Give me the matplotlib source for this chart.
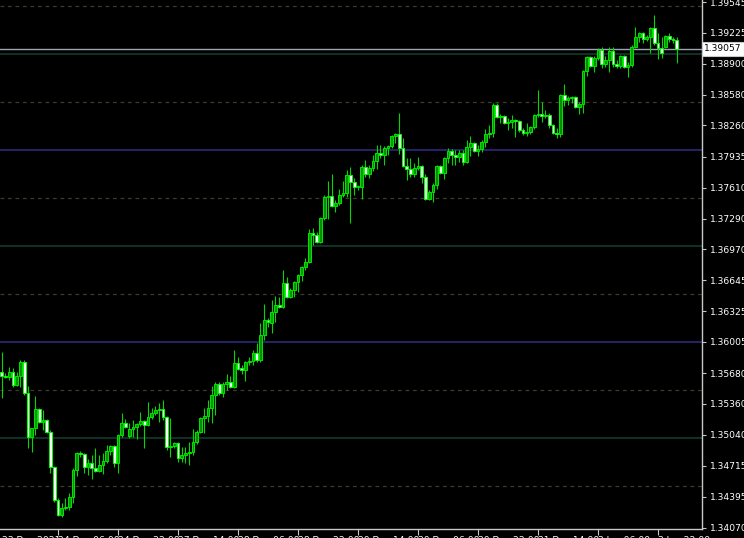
import matplotlib
matplotlib.use("Agg")
import matplotlib.pyplot as plt
import matplotlib.transforms as mtransforms
import numpy as np

# hourly candles (oldest first)
opens = [
    1.35692, 1.35651, 1.35640, 1.35692, 1.35557, 1.35651, 1.35796, 1.35474, 1.35015, 1.35109,
    1.35306, 1.35171, 1.35192, 1.35067, 1.34703, 1.34359, 1.34203, 1.34276, 1.34286, 1.34390,
    1.34671, 1.34849, 1.34838, 1.34703, 1.34745, 1.34693, 1.34661, 1.34724, 1.34766, 1.34870,
    1.34921, 1.34745, 1.35036, 1.35161, 1.35026, 1.35098, 1.35119, 1.35150, 1.35182, 1.35140,
    1.35223, 1.35265, 1.35296, 1.35306, 1.35223, 1.34911, 1.34921, 1.34953, 1.34797, 1.34828,
    1.34849, 1.34859, 1.34963, 1.35067, 1.35213, 1.35234, 1.35317, 1.35453, 1.35567, 1.35474,
    1.35567, 1.35588, 1.35536, 1.35786, 1.35734, 1.35713, 1.35796, 1.35807, 1.35890, 1.35817,
    1.36077, 1.36234, 1.36203, 1.36317, 1.36390, 1.36369, 1.36619, 1.36473, 1.36546, 1.36629,
    1.36702, 1.36785, 1.36837, 1.37140, 1.37119, 1.37046, 1.37296, 1.37514, 1.37525, 1.37421,
    1.37452, 1.37535, 1.37556, 1.37744, 1.37670, 1.37618, 1.37618, 1.37827, 1.37754, 1.37817,
    1.37890, 1.37973, 1.37952, 1.38025, 1.38046, 1.38150, 1.38171, 1.38025, 1.37838, 1.37806,
    1.37754, 1.37817, 1.37838, 1.37723, 1.37494, 1.37566, 1.37639, 1.37838, 1.37764, 1.37921,
    1.37994, 1.37952, 1.37931, 1.37973, 1.37879, 1.38035, 1.38077, 1.37994, 1.38014, 1.38087,
    1.38171, 1.38181, 1.38473, 1.38347, 1.38358, 1.38285, 1.38295, 1.38316, 1.38306, 1.38212,
    1.38181, 1.38191, 1.38243, 1.38368, 1.38379, 1.38358, 1.38368, 1.38264, 1.38181, 1.38171,
    1.38577, 1.38525, 1.38546, 1.38556, 1.38452, 1.38483, 1.38827, 1.38972, 1.38879, 1.38962,
    1.39045, 1.38899, 1.38941, 1.39035, 1.38899, 1.38879, 1.38983, 1.38868, 1.38889, 1.39076,
    1.39181, 1.39223, 1.39160, 1.39181, 1.39275, 1.39118, 1.39066, 1.39076, 1.39191, 1.39160,
    1.39149,
]
highs = [
    1.35900, 1.35682, 1.35744, 1.35734, 1.35692, 1.35817, 1.35817, 1.35547, 1.35109, 1.35443,
    1.35317, 1.35296, 1.35202, 1.35088, 1.34714, 1.34380, 1.34328, 1.34380, 1.34432, 1.34693,
    1.34859, 1.34870, 1.34849, 1.34786, 1.34828, 1.34901, 1.34828, 1.34849, 1.34932, 1.34932,
    1.34932, 1.35046, 1.35265, 1.35202, 1.35161, 1.35192, 1.35161, 1.35275, 1.35192, 1.35379,
    1.35317, 1.35338, 1.35369, 1.35400, 1.35234, 1.35213, 1.34963, 1.34963, 1.34911, 1.34911,
    1.34963, 1.35098, 1.35088, 1.35223, 1.35317, 1.35400, 1.35547, 1.35588, 1.35588, 1.35588,
    1.35671, 1.35651, 1.35921, 1.35848, 1.35765, 1.35807, 1.35848, 1.35921, 1.35994, 1.36203,
    1.36400, 1.36255, 1.36442, 1.36484, 1.36473, 1.36754, 1.36681, 1.36567, 1.36640, 1.36712,
    1.36796, 1.36879, 1.37181, 1.37192, 1.37150, 1.37306, 1.37535, 1.37681, 1.37754, 1.37483,
    1.37597, 1.37681, 1.37796, 1.37827, 1.37712, 1.37639, 1.37848, 1.37900, 1.37848, 1.37952,
    1.38056, 1.38056, 1.38046, 1.38056, 1.38160, 1.38181, 1.38390, 1.38129, 1.37921, 1.37921,
    1.37869, 1.37931, 1.37848, 1.37754, 1.37587, 1.37660, 1.37848, 1.37848, 1.37931, 1.38025,
    1.38014, 1.38004, 1.38004, 1.38004, 1.38108, 1.38150, 1.38087, 1.38056, 1.38108, 1.38223,
    1.38264, 1.38494, 1.38494, 1.38379, 1.38368, 1.38337, 1.38368, 1.38327, 1.38316, 1.38233,
    1.38285, 1.38254, 1.38379, 1.38629, 1.38504, 1.38420, 1.38389, 1.38275, 1.38233, 1.38587,
    1.38691, 1.38567, 1.38567, 1.38567, 1.38504, 1.38837, 1.38983, 1.38983, 1.38983, 1.39066,
    1.39076, 1.38983, 1.39076, 1.39076, 1.38941, 1.38993, 1.38993, 1.38920, 1.39097, 1.39285,
    1.39233, 1.39233, 1.39202, 1.39285, 1.39410, 1.39223, 1.39181, 1.39202, 1.39223, 1.39181,
    1.39181,
]
lows = [
    1.35422, 1.35630, 1.35609, 1.35536, 1.35547, 1.35536, 1.35453, 1.34901, 1.34859, 1.35036,
    1.35161, 1.35088, 1.35057, 1.34640, 1.34338, 1.34193, 1.34182, 1.34255, 1.34255, 1.34328,
    1.34609, 1.34807, 1.34640, 1.34619, 1.34577, 1.34650, 1.34650, 1.34629, 1.34745, 1.34828,
    1.34703, 1.34640, 1.35015, 1.35109, 1.35005, 1.35015, 1.34994, 1.35130, 1.34901, 1.35130,
    1.35202, 1.35244, 1.35171, 1.35192, 1.34880, 1.34807, 1.34901, 1.34755, 1.34755, 1.34745,
    1.34724, 1.34828, 1.34942, 1.35057, 1.35057, 1.35171, 1.35161, 1.35244, 1.35453, 1.35432,
    1.35505, 1.35526, 1.35526, 1.35713, 1.35671, 1.35599, 1.35765, 1.35765, 1.35796, 1.35796,
    1.36025, 1.36161, 1.36098, 1.36213, 1.36359, 1.36359, 1.36463, 1.36463, 1.36473, 1.36525,
    1.36640, 1.36754, 1.36827, 1.37015, 1.37036, 1.37036, 1.37275, 1.37285, 1.37410, 1.37358,
    1.37431, 1.37514, 1.37514, 1.37244, 1.37535, 1.37587, 1.37494, 1.37723, 1.37712, 1.37785,
    1.37806, 1.37921, 1.37848, 1.37952, 1.38025, 1.38077, 1.37962, 1.37827, 1.37691, 1.37723,
    1.37723, 1.37796, 1.37660, 1.37483, 1.37483, 1.37462, 1.37597, 1.37754, 1.37702, 1.37869,
    1.37848, 1.37848, 1.37879, 1.37848, 1.37869, 1.37942, 1.37983, 1.37942, 1.37983, 1.38035,
    1.38129, 1.38139, 1.38337, 1.38285, 1.38275, 1.38212, 1.38233, 1.38139, 1.38191, 1.38160,
    1.38150, 1.38171, 1.38223, 1.38347, 1.38295, 1.38337, 1.38233, 1.38171, 1.38129, 1.38139,
    1.38462, 1.38473, 1.38494, 1.38441, 1.38379, 1.38389, 1.38775, 1.38868, 1.38816, 1.38941,
    1.38858, 1.38868, 1.38816, 1.38868, 1.38858, 1.38858, 1.38858, 1.38764, 1.38868, 1.39066,
    1.39129, 1.39118, 1.39139, 1.39014, 1.39097, 1.38952, 1.38962, 1.39066, 1.39129, 1.39118,
    1.38910,
]
closes = [
    1.35651, 1.35640, 1.35692, 1.35557, 1.35651, 1.35796, 1.35474, 1.35015, 1.35109, 1.35306,
    1.35171, 1.35192, 1.35067, 1.34703, 1.34359, 1.34203, 1.34276, 1.34286, 1.34390, 1.34671,
    1.34849, 1.34838, 1.34703, 1.34745, 1.34693, 1.34661, 1.34724, 1.34766, 1.34870, 1.34921,
    1.34745, 1.35036, 1.35161, 1.35119, 1.35098, 1.35119, 1.35150, 1.35182, 1.35140, 1.35223,
    1.35265, 1.35296, 1.35306, 1.35223, 1.34911, 1.34921, 1.34953, 1.34797, 1.34828, 1.34849,
    1.34859, 1.34963, 1.35067, 1.35213, 1.35234, 1.35317, 1.35453, 1.35567, 1.35474, 1.35567,
    1.35588, 1.35536, 1.35786, 1.35723, 1.35713, 1.35796, 1.35807, 1.35890, 1.35817, 1.36077,
    1.36234, 1.36213, 1.36317, 1.36390, 1.36369, 1.36619, 1.36473, 1.36546, 1.36629, 1.36702,
    1.36785, 1.36837, 1.37140, 1.37119, 1.37046, 1.37296, 1.37514, 1.37525, 1.37421, 1.37452,
    1.37535, 1.37556, 1.37744, 1.37670, 1.37618, 1.37629, 1.37827, 1.37754, 1.37817, 1.37890,
    1.37973, 1.37952, 1.38025, 1.38046, 1.38150, 1.38171, 1.38025, 1.37838, 1.37806, 1.37754,
    1.37817, 1.37838, 1.37723, 1.37494, 1.37566, 1.37639, 1.37838, 1.37764, 1.37921, 1.37994,
    1.37952, 1.37931, 1.37973, 1.37879, 1.38035, 1.38077, 1.37994, 1.38014, 1.38087, 1.38171,
    1.38181, 1.38473, 1.38347, 1.38358, 1.38285, 1.38295, 1.38316, 1.38306, 1.38212, 1.38181,
    1.38191, 1.38243, 1.38368, 1.38379, 1.38358, 1.38368, 1.38264, 1.38181, 1.38171, 1.38577,
    1.38525, 1.38546, 1.38556, 1.38452, 1.38483, 1.38827, 1.38972, 1.38879, 1.38962, 1.39045,
    1.38899, 1.38941, 1.39035, 1.38899, 1.38879, 1.38983, 1.38868, 1.38889, 1.39076, 1.39181,
    1.39223, 1.39160, 1.39181, 1.39275, 1.39118, 1.39066, 1.39014, 1.39191, 1.39160, 1.39149,
    1.39057,
]

bid = 1.39057
price_ticks = [1.39545, 1.39225, 1.38900, 1.38580, 1.38260, 1.37935, 1.37610, 1.37290, 1.36970,
               1.36645, 1.36325, 1.36005, 1.35680, 1.35360, 1.35040, 1.34715, 1.34395, 1.34070]
green_levels = [1.39, 1.37, 1.35]
blue_levels = [1.38, 1.36]
grid_levels = [1.395, 1.385, 1.375, 1.365, 1.355, 1.345]
time_ticks = [0, 15, 31, 47, 63, 79, 95, 111, 127, 143, 159, 175]
time_labels = ["23 Dec 2021", "24 Dec 06:00", "24 Dec 22:00", "27 Dec 14:00", "28 Dec 06:00",
               "28 Dec 22:00", "29 Dec 14:00", "30 Dec 06:00", "30 Dec 22:00", "31 Dec 14:00",
               "3 Jan 06:00", "3 Jan 22:00"]

o = np.array(opens)
h = np.array(highs)
l = np.array(lows)
c = np.array(closes)
x = np.arange(len(o))

fig = plt.figure(figsize=(7.44, 5.38), dpi=100, facecolor="black")
ax = fig.add_axes([0, 1 - 529 / 538, 702 / 744, 529 / 538])
ax.set_facecolor("black")

# horizontal levels
for lv in grid_levels:
    ax.axhline(lv, color="#3c3c2a", lw=0.9, ls=(0, (3, 3)), zorder=1)
for lv in green_levels:
    ax.axhline(lv, color="#123c2c", lw=1.2, zorder=1)
for lv in blue_levels:
    ax.axhline(lv, color="#2e2a7c", lw=1.2, zorder=1)
ax.axhline(bid, color="#9aa4b2", lw=1.0, zorder=1.5)

# candles
ax.vlines(x, l, h, color="#00d800", lw=0.8, zorder=2)
bull = c >= o
bottoms = np.minimum(o, c)
heights = np.maximum(np.abs(c - o), 0.00002)
ax.bar(x[bull], heights[bull], bottom=bottoms[bull], width=0.72,
       color="#009400", edgecolor="#00e600", linewidth=0.7, zorder=3)
ax.bar(x[~bull], heights[~bull], bottom=bottoms[~bull], width=0.72,
       color="#f2fff2", edgecolor="#00ff00", linewidth=0.7, zorder=3)

ax.set_xlim(-0.45, 186.75)
ax.set_ylim(1.34057, 1.39566)

for side in ["top", "left"]:
    ax.spines[side].set_visible(False)
for side in ["right", "bottom"]:
    ax.spines[side].set_color("#c8c8c8")
    ax.spines[side].set_linewidth(1.0)

ax.yaxis.tick_right()
ax.set_yticks(price_ticks)
ax.set_yticklabels([f"{v:.5f}" for v in price_ticks])
ax.tick_params(axis="y", colors="#c8c8c8", labelcolor="white", length=3, width=0.8,
               pad=3, labelsize=6.6)

# time labels sit at the very bottom edge and are mostly cut off, as in the screenshot
ax.set_xticks(time_ticks)
ax.set_xticklabels(time_labels, ha="left")
ax.tick_params(axis="x", colors="#c8c8c8", labelcolor="white", length=4, width=0.8,
               pad=1.0, labelsize=6.6)
ax.get_xticklines()[0].set_visible(False)

# current bid label
trans = mtransforms.blended_transform_factory(ax.transAxes, ax.transData)
ax.text(1.003, bid, f"{bid:.5f}", transform=trans, ha="left", va="center",
        fontsize=6.6, color="black", clip_on=False, zorder=5,
        bbox=dict(boxstyle="square,pad=0.28", fc="white", ec="#c8c8c8", lw=0.8))

fig.savefig("out.png", dpi=100, facecolor="black")
